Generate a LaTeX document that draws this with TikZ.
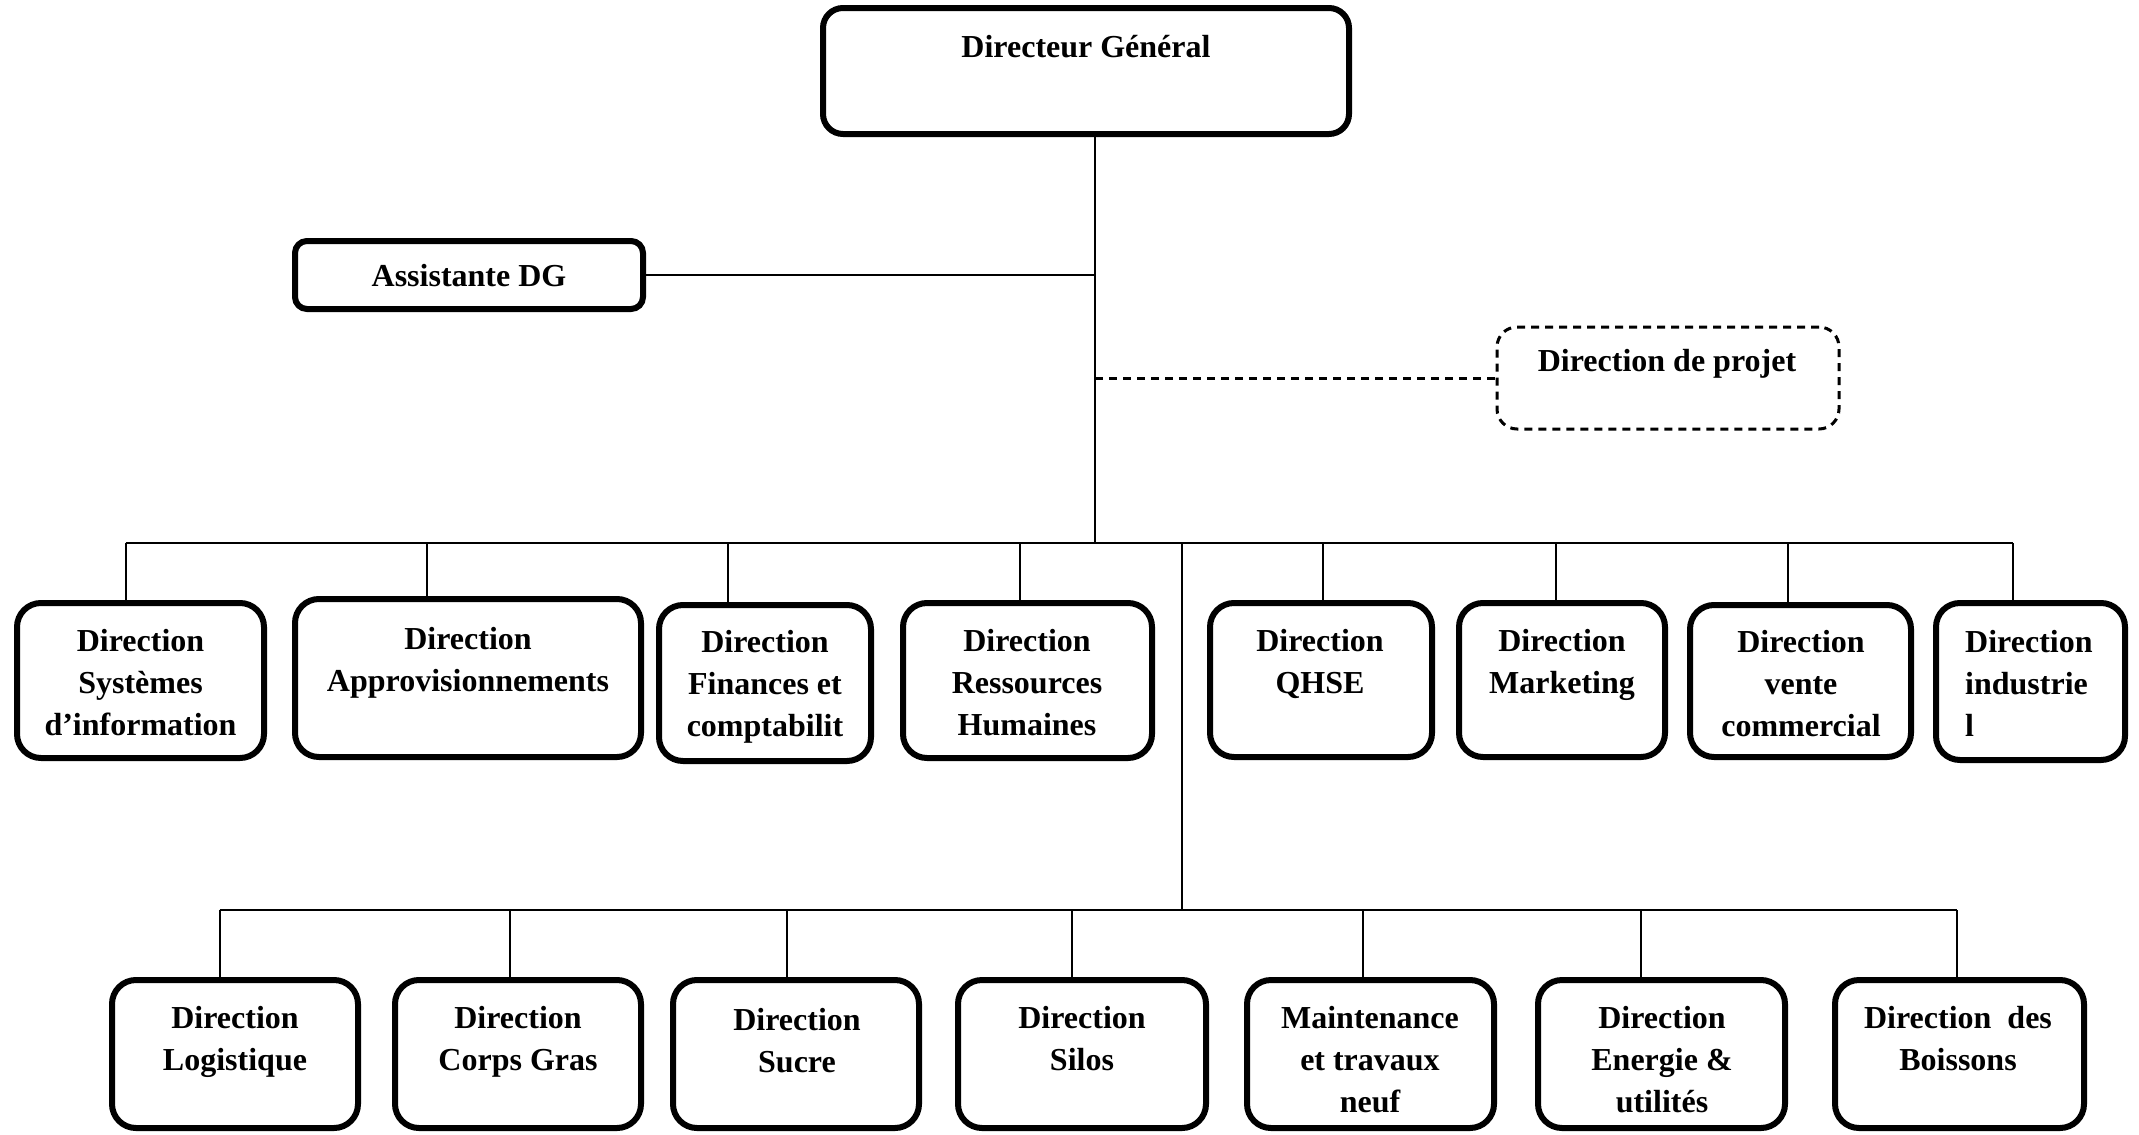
\documentclass[tikz,border=0pt]{standalone}
\usepackage{fontspec}
\setmainfont{Liberation Serif}
\begin{document}
\begin{tikzpicture}[x=1pt,y=-1pt,
  unit/.style={draw=black, line width=6pt, rounded corners=24pt, inner sep=0pt, outer sep=0pt},
  lbl/.style={align=center, inner sep=0pt, anchor=base, font=\fontsize{32}{42}\selectfont\bfseries},
  link/.style={line width=2pt},
  dlink/.style={line width=3pt, dash pattern=on 8pt off 6pt}]
\useasboundingbox (0,0) rectangle (2139,1135);

% --- top level ---
\node[unit, rounded corners=20pt, minimum width=526pt, minimum height=126pt] (dg) at (1086,71) {};
\node[lbl] (dg-t) at (1086,57) {Directeur Général};

\node[unit, rounded corners=12pt, minimum width=348pt, minimum height=68pt] (asst) at (469,275) {};
\node[lbl] (asst-t) at (469,286) {Assistante DG};

\node[unit, line width=3pt, dash pattern=on 8pt off 6pt, rounded corners=20pt,
      minimum width=342pt, minimum height=102pt] (prj) at (1668,378) {};
\node[lbl] (prj-t) at (1667,371) {Direction de projet};

% --- first row of directions ---
\node[unit, minimum width=247pt, minimum height=155pt] (r1) at (140.5,680.5) {};
\node[unit, minimum width=346pt, minimum height=158pt] (r2) at (468,678) {};
\node[unit, minimum width=212pt, minimum height=156pt] (r3) at (765,683) {};
\node[unit, minimum width=249pt, minimum height=155pt] (r4) at (1027.5,680.5) {};
\node[unit, minimum width=222pt, minimum height=154pt] (r5) at (1321,680) {};
\node[unit, minimum width=206pt, minimum height=154pt] (r6) at (1562,680) {};
\node[unit, minimum width=221pt, minimum height=152pt] (r7) at (1800.5,681) {};
\node[unit, minimum width=189pt, minimum height=157pt] (r8) at (2030.5,681.5) {};

% labels are placed by the baseline of their last line
\node[lbl] (r1-t) at (140.5,735) {Direction\\Systèmes\\d’information};
\node[lbl] (r2-t) at (468,691) {Direction\\Approvisionnements};
\node[lbl] (r3-t) at (765,736) {Direction\\Finances et\\comptabilit};
\node[lbl] (r4-t) at (1027,735) {Direction\\Ressources\\Humaines};
\node[lbl] (r5-t) at (1320,693) {Direction\\QHSE};
\node[lbl] (r6-t) at (1562,693) {Direction\\Marketing};
\node[lbl] (r7-t) at (1801,736) {Direction\\vente\\commercial};
\node[lbl, align=left, anchor=base west] (r8-t) at (1965,736) {Direction\\industrie\\l};

% --- second row of directions ---
\node[unit, minimum width=246pt, minimum height=148pt] (s1) at (235,1054) {};
\node[unit, minimum width=246pt, minimum height=148pt] (s2) at (518,1054) {};
\node[unit, minimum width=246pt, minimum height=148pt] (s3) at (796,1054) {};
\node[unit, minimum width=248pt, minimum height=148pt] (s4) at (1082,1054) {};
\node[unit, minimum width=247pt, minimum height=148pt] (s5) at (1370.5,1054) {};
\node[unit, minimum width=247pt, minimum height=148pt] (s6) at (1661.5,1054) {};
\node[unit, minimum width=249pt, minimum height=148pt] (s7) at (1959.5,1054) {};

\node[lbl] (s1-t) at (235,1070) {Direction\\Logistique};
\node[lbl] (s2-t) at (518,1070) {Direction\\Corps Gras};
\node[lbl] (s3-t) at (797,1072) {Direction\\Sucre};
\node[lbl] (s4-t) at (1082,1070) {Direction\\Silos};
\node[lbl] (s5-t) at (1370,1112) {Maintenance\\et travaux\\neuf};
\node[lbl] (s6-t) at (1662,1112) {Direction\\Energie \&\\utilités};
\node[lbl] (s7-t) at (1958,1070) {Direction\ \ des\\Boissons};

% --- junctions ---
\coordinate (j) at (1095,543);
\coordinate (k) at (1182,543);
\coordinate (k2) at (1182,910);
\foreach \n/\x in {1/125.5,2/427,3/728,4/1020,5/1323,6/1556,7/1788,8/2013}
  \coordinate (b\n) at (\x,543);
\foreach \n/\x in {1/219.6,2/510,3/787,4/1072,5/1363,6/1641,7/1957}
  \coordinate (d\n) at (\x,910);

% --- connectors ---
\draw[link] (dg.south -| j) -- (j);
\draw[link] (asst.east) -- (asst.east -| j);
\draw[dlink] (prj.west -| j) -- (prj.west);
\draw[link] (b1) -- (b8);
\foreach \n in {1,...,8}
  \draw[link] (b\n) -- (b\n |- r\n.north);
\draw[link] (k) -- (k2);
\draw[link] (d1) -- (d7);
\foreach \n in {1,...,7}
  \draw[link] (d\n) -- (d\n |- s\n.north);
\end{tikzpicture}
\end{document}
